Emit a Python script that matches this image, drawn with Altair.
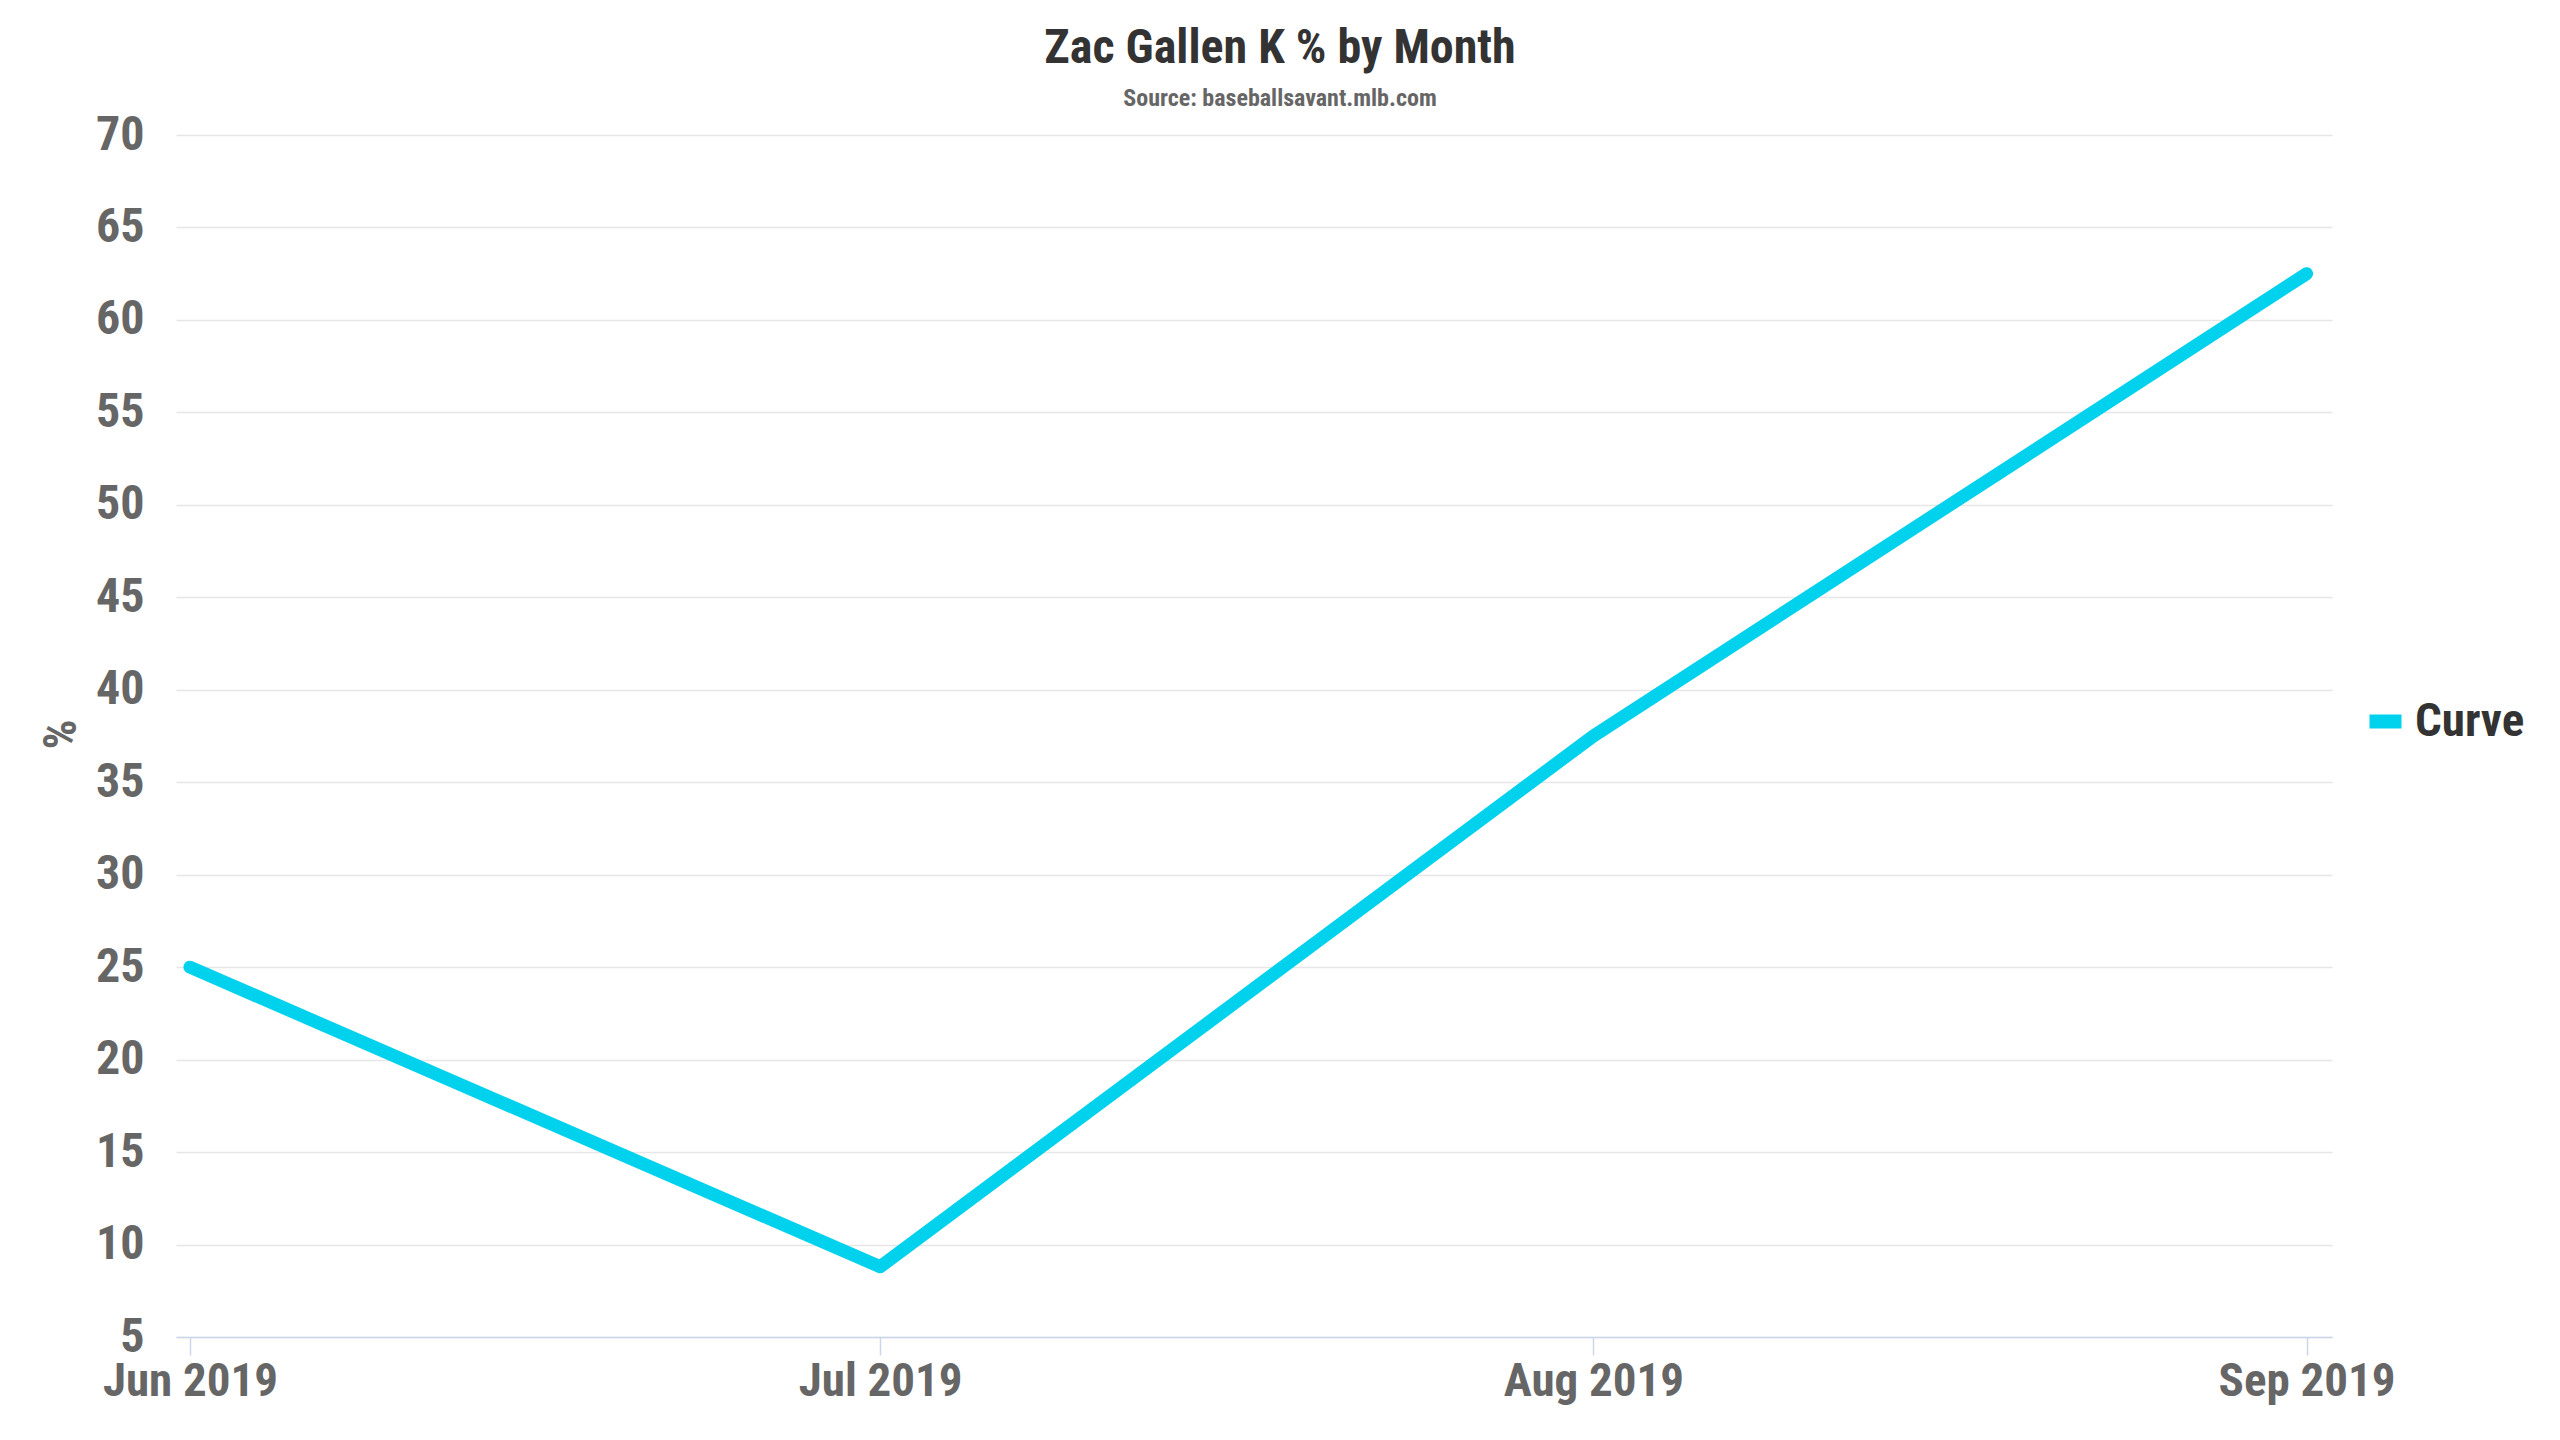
import altair as alt
import pandas as pd

# Data
months = ["2019-06-01T00:00:00", "2019-07-01T00:00:00", "2019-08-01T00:00:00", "2019-09-01T00:00:00"]
k_pct = [25.0, 8.8, 37.5, 62.5]
series = ["Curve", "Curve", "Curve", "Curve"]
y_ticks = [5, 10, 15, 20, 25, 30, 35, 40, 45, 50, 55, 60, 65, 70]

df = pd.DataFrame({"month": months, "pct": k_pct, "pitch": series})

FONT = "Roboto Condensed, Liberation Sans Narrow, Roboto, sans-serif"

x_vals = [alt.DateTime(year=2019, month=m, date=1) for m in [6, 7, 8, 9]]

chart = (
    alt.Chart(df)
    .mark_line(strokeWidth=13, strokeCap="round", strokeJoin="round")
    .encode(
        x=alt.X(
            "month:T",
            scale=alt.Scale(
                domain=[
                    alt.DateTime(year=2019, month=5, date=31, hours=9, minutes=25),
                    alt.DateTime(year=2019, month=9, date=2, hours=2, minutes=30),
                ]
            ),
            axis=alt.Axis(
                title=None,
                values=x_vals,
                format="%b %Y",
                labelFont=FONT,
                labelFontSize=47,
                labelFontWeight="bold",
                labelColor="#666666",
                labelPadding=3,
                labelFlush=False,
                labelOverlap=False,
                labelBound=False,
                labelLimit=0,
                tickSize=18,
                tickColor="#ccd6eb",
                tickWidth=1.5,
                domainColor="#ccd6eb",
                domainWidth=1.5,
                grid=False,
            ),
        ),
        y=alt.Y(
            "pct:Q",
            scale=alt.Scale(domain=[5, 70], nice=False, zero=False),
            axis=alt.Axis(
                title="%",
                values=y_ticks,
                titleFont=FONT,
                titleFontSize=47,
                titleFontWeight="bold",
                titleColor="#666666",
                titleAngle=-90,
                titleAlign="center",
                titleBaseline="middle",
                titleX=-115,
                titleY=599,
                labelFont=FONT,
                labelFontSize=48,
                labelFontWeight="bold",
                labelColor="#666666",
                labelPadding=32,
                labelFlush=False,
                labelOverlap=False,
                labelLimit=0,
                ticks=False,
                domain=False,
                gridColor="#e6e6e6",
                gridWidth=1.5,
            ),
        ),
        color=alt.Color(
            "pitch:N",
            scale=alt.Scale(domain=["Curve"], range=["#00d1ed"]),
            legend=alt.Legend(
                title=None,
                orient="none",
                legendX=2186,
                legendY=563,
                padding=0,
                symbolType="stroke",
                symbolSize=1024,
                symbolStrokeWidth=14,
                labelFont=FONT,
                labelFontSize=47,
                labelFontWeight="bold",
                labelColor="#333333",
                labelOffset=6,
                labelLimit=0,
            ),
        ),
    )
    .properties(
        width=2156,
        height=1202,
        background="white",
        padding={"left": 168, "top": 127, "right": 220, "bottom": 95},
        autosize=alt.AutoSizeParams(type="none"),
        title=alt.TitleParams(
            text="Zac Gallen K % by Month",
            subtitle="Source: baseballsavant.mlb.com",
            font=FONT,
            fontSize=48,
            fontWeight="bold",
            color="#333333",
            subtitleFont=FONT,
            subtitleFontSize=24,
            subtitleFontWeight="bold",
            subtitleColor="#666666",
            subtitlePadding=14,
            anchor="middle",
            offset=0,
            dx=26,
        ),
    )
    .configure_view(stroke="transparent", strokeWidth=0)
)

chart.save("out.html", embed_options={"renderer": "svg", "actions": False})
